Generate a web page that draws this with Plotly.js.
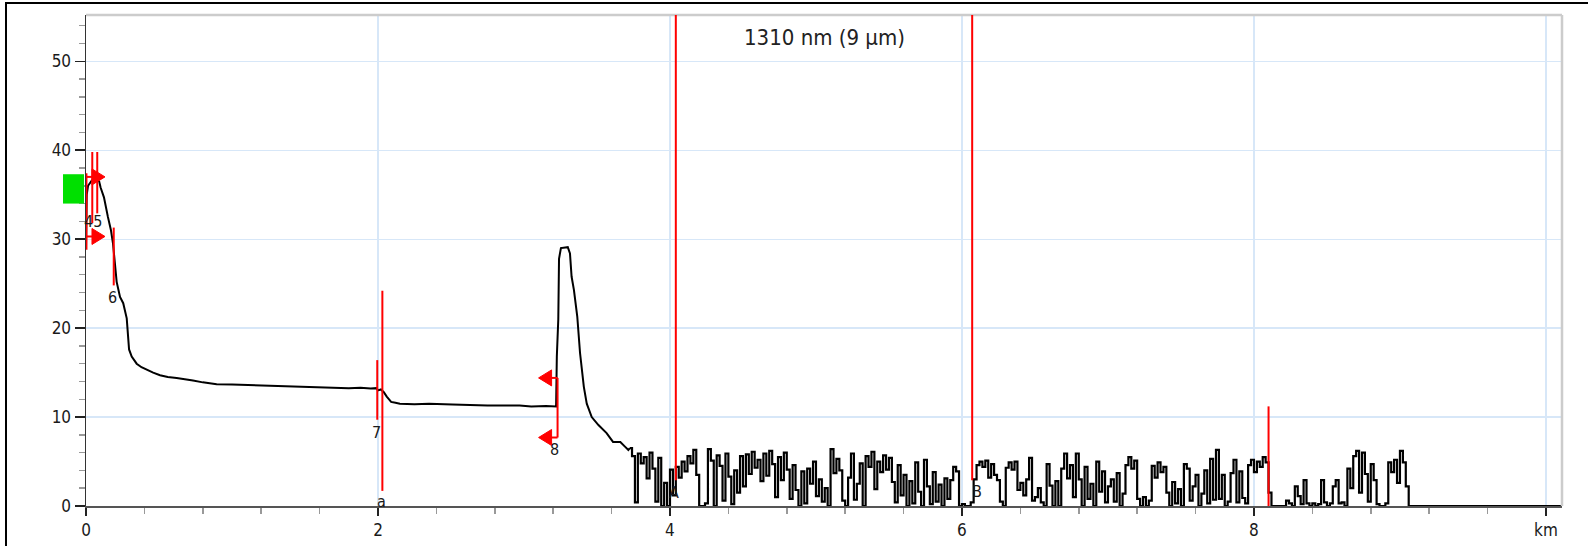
<!DOCTYPE html>
<html>
<head>
<meta charset="utf-8">
<script src="https://cdn.plot.ly/plotly-3.0.1.min.js"></script>
<style>
  html, body { margin: 0; padding: 0; background: #fff; overflow: hidden; }
  #wrap { position: relative; width: 1588px; height: 546px; }
  #chart { position: absolute; left: 0; top: 0; width: 1588px; height: 546px; }
  #frame { position: absolute; left: 5px; top: 2px; width: 1600px; height: 600px;
           border-left: 2px solid #000; border-top: 2px solid #000; pointer-events: none; }
</style>
</head>
<body>
<div id="wrap">
  <div id="chart"></div>
  <div id="frame"></div>
</div>
<script>
// ---------------- data ----------------
const chartTitle = '1310 nm (9 µm)';

// smooth part of the OTDR trace (km, dB)
const distKm = [0, 0.005, 0.014, 0.04, 0.07, 0.09, 0.10, 0.123, 0.15, 0.171,
  0.185, 0.20, 0.21, 0.233, 0.255, 0.279, 0.29, 0.295, 0.313, 0.347,
  0.38, 0.416, 0.46, 0.507, 0.56, 0.621, 0.68, 0.733, 0.80, 0.895,
  1.0, 1.10, 1.2, 1.3, 1.42, 1.5, 1.6, 1.7, 1.8, 1.88,
  1.95, 1.99, 2.0, 2.02, 2.04, 2.06, 2.09, 2.12, 2.15, 2.25,
  2.35, 2.51, 2.6, 2.75, 2.85, 2.97, 3.05, 3.15, 3.22, 3.225,
  3.235, 3.24, 3.253, 3.28, 3.30, 3.315, 3.326, 3.342, 3.365, 3.384,
  3.395, 3.41, 3.43, 3.464, 3.51, 3.566, 3.61, 3.66, 3.69, 3.715, 3.725];
const levelDb = [29.0, 35.0, 36.0, 36.6, 36.7, 36.5, 35.8, 34.7, 32.5, 31.0,
  29.5, 26.6, 25.2, 23.5, 22.8, 21.1, 19.0, 17.6, 16.8, 16.0,
  15.6, 15.3, 15.0, 14.7, 14.5, 14.4, 14.2, 14.1, 13.9, 13.7,
  13.65, 13.6, 13.5, 13.45, 13.4, 13.35, 13.3, 13.3, 13.25, 13.3,
  13.2, 13.25, 13.0, 13.1, 12.8, 12.3, 11.7, 11.6, 11.5, 11.45,
  11.5, 11.4, 11.35, 11.3, 11.3, 11.3, 11.2, 11.25, 11.2, 16.8,
  21.0, 27.8, 29.0, 29.1, 29.1, 28.4, 25.8, 24.3, 21.3, 17.2,
  15.7, 13.4, 11.5, 10.0, 9.1, 8.2, 7.2, 7.2, 6.7, 6.3, 6.5];

// noise floor samples (dB), sampled every noiseStepKm from noiseStartKm
const noiseStartKm = 3.74;
const noiseStepKm = 0.02;
const noiseDb = [
  5.6, 0.4, 5.9, 4.8, 5.5,   3.1, 6.0, 4.2, 0.5, 5.4,
  0, 2.6, 0, 4.1, 1.2,       4.4, 3.2, 5.0, 3.9, 5.6,
  4.8, 6.3, 3.5, 0, 0,       0.3, 6.4, 5.1, 0, 5.7,
  4.5, 0.6, 5.9, 3.3, 0.2,   4.0, 1.5, 5.6, 2.2, 5.8,
  3.6, 6.1, 4.3, 5.2, 2.8,   5.9, 3.4, 6.2, 4.7, 1.0,
  5.5, 2.9, 6.0, 4.1, 0.8,   4.6, 1.8, 0, 3.9, 0.3,
  4.2, 2.5, 5.0, 1.1, 3.0,   0.5, 2.0, 0, 6.4, 3.7,
  5.3, 4.0, 0.6, 0, 3.2,     5.9, 0.7, 2.5, 4.8, 0,
  5.6, 4.4, 6.1, 1.9, 5.0,   3.8, 5.7, 4.1, 5.4, 2.7,
  0.4, 4.6, 1.2, 3.5, 0,     2.8, 0.3, 4.9, 1.6, 0,
  5.2, 2.2, 0.2, 3.8, 0.5,   2.4, 0, 3.1, 0.8, 2.9,
  4.4, 3.9, 0, 0.2, 0,       0, 0.4, 3.0, 4.6, 5.0,
  4.4, 5.1, 3.2, 4.7, 3.5,   2.9, 0.5, 0, 4.3, 4.9,
  4.1, 5.0, 1.8, 2.6, 1.2,   3.0, 5.4, 0.6, 1.0, 2.0,
  0.4, 0, 4.7, 2.3, 0,       2.8, 0, 4.2, 5.9, 3.1,
  4.6, 1.0, 5.9, 3.0, 0,     4.4, 0.8, 2.5, 0, 5.0,
  1.6, 3.9, 0.4, 2.2, 3.0,   0.5, 3.7, 0, 1.4, 4.6,
  5.5, 4.2, 5.1, 0.8, 0,     1.0, 0, 0.6, 4.5, 3.2,
  4.9, 3.8, 4.4, 1.5, 0,     2.7, 0.3, 1.9, 0, 4.7,
  4.2, 0.6, 2.2, 3.5, 0,     1.4, 4.0, 0.3, 5.3, 0.7,
  6.3, 0.8, 3.5, 0, 0.5,     3.7, 5.2, 0.4, 3.9, 0.9,
  0.3, 4.6, 5.2, 3.8, 5.0,   4.4, 5.5, 4.9, 1.5, 0,
  0, 0, 0, 0, 0.6,           0.3, 0, 2.2, 1.1, 0.2,
  2.9, 0.3, 0, 0.3, 0,       0.2, 2.9, 0.4, 0, 0.3,
  2.2, 2.9, 0.3, 0.4, 0,     4.2, 2.0, 5.6, 6.2, 1.5,
  6.0, 3.6, 0.5, 4.7, 2.9,   0.2, 0, 0, 0.3, 4.9,
  3.8, 5.2, 2.6, 6.2, 4.9,   2.2, 0];

// trace end (flat at 0 dB)
const tailKm = [10.11];
const tailDb = [0];

// axis
const xTickVals = [0, 2, 4, 6, 8, 10];
const xTickText = ['0', '2', '4', '6', '8', 'km'];
const yTickVals = [0, 10, 20, 30, 40, 50];

// red event marker lines
const eventLineKm = [0.003, 0.043, 0.077, 0.19, 1.995, 2.03, 3.23, 4.04, 6.07, 8.10];
const eventLineFromDb = [28.8, 31.8, 32.9, 24.8, 9.7, 1.7, 7.7, 2.9, 2.9, 0];
const eventLineToDb = [37.4, 39.8, 39.8, 31.3, 16.4, 24.2, 14.4, 56, 56, 11.2];

// red arrows (shaft start, tip, level)
const arrowFromKm = [0.0, 0.0, 3.23, 3.23];
const arrowTipKm = [0.13, 0.13, 3.10, 3.10];
const arrowDb = [37.0, 30.3, 14.4, 7.7];

// event labels
const labelText = ['45', '6', '7', '8', 'a', 'A', 'B'];
const labelKm = [0.05, 0.18, 1.99, 3.21, 2.025, 4.03, 6.10];
const labelDb = [32.0, 23.4, 8.3, 6.3, 0.5, 1.5, 1.6];

// green launch marker (dB span)
const launchFromDb = 34.0;
const launchToDb = 37.3;

// ---------------- chart ----------------
const W = 1588, H = 546;
const M = { l: 86, r: 26, t: 15, b: 40 };
const X_RANGE = [0, 10.11];
const Y_RANGE = [0, 55.2];
const pxPerKm = (W - M.l - M.r) / (X_RANGE[1] - X_RANGE[0]);
const pxPerDb = (H - M.t - M.b) / (Y_RANGE[1] - Y_RANGE[0]);
const FONT = "'DejaVu Sans Condensed', 'DejaVu Sans', sans-serif";
const RED = '#ff0000';

const noiseKm = noiseDb.map((_, i) => +(noiseStartKm + i * noiseStepKm).toFixed(3));

const traceSmooth = {
  x: distKm, y: levelDb, type: 'scatter', mode: 'lines',
  line: { color: '#000', width: 2 }, hoverinfo: 'skip'
};
const traceNoise = {
  x: [distKm[distKm.length - 1]].concat(noiseKm, tailKm),
  y: [levelDb[levelDb.length - 1]].concat(noiseDb, tailDb),
  type: 'scatter', mode: 'lines',
  line: { color: '#000', width: 2.2, shape: 'hv' }, hoverinfo: 'skip'
};

const shapes = [];
// plot border top/right (light gray)
shapes.push({ type: 'line', xref: 'paper', yref: 'paper', x0: 0, x1: 1, y0: 1, y1: 1,
  line: { color: '#cccccc', width: 2.5 } });
shapes.push({ type: 'line', xref: 'paper', yref: 'paper', x0: 1, x1: 1, y0: 0, y1: 1,
  line: { color: '#cccccc', width: 2.5 } });

// green launch marker in the left margin
shapes.push({ type: 'rect', xref: 'paper', yref: 'y',
  x0: -23 / (W - M.l - M.r), x1: -2 / (W - M.l - M.r),
  y0: launchFromDb, y1: launchToDb, fillcolor: '#00e000', line: { width: 0 } });

eventLineKm.forEach((x, i) => {
  shapes.push({ type: 'line', xref: 'x', yref: 'y', x0: x, x1: x,
    y0: eventLineFromDb[i], y1: eventLineToDb[i], line: { color: RED, width: 2 } });
});

const headLenKm = 13 / pxPerKm;
const headHalfDb = 8 / pxPerDb;
arrowTipKm.forEach((tip, i) => {
  const from = arrowFromKm[i];
  const y = arrowDb[i];
  const dir = tip > from ? 1 : -1;
  shapes.push({ type: 'line', xref: 'x', yref: 'y', x0: from, x1: tip - dir * headLenKm * 0.5,
    y0: y, y1: y, line: { color: RED, width: 2 } });
  const bx = tip - dir * headLenKm;
  shapes.push({ type: 'path', xref: 'x', yref: 'y',
    path: `M ${tip} ${y} L ${bx} ${y + headHalfDb} L ${bx} ${y - headHalfDb} Z`,
    fillcolor: RED, line: { color: RED, width: 1 } });
});

const annotations = [{
  text: chartTitle, xref: 'paper', yref: 'paper', x: 0.5,
  y: 1 - 23 / (H - M.t - M.b), xanchor: 'center', yanchor: 'middle',
  showarrow: false, font: { family: FONT, size: 22, color: '#222' }
}];
labelText.forEach((t, i) => {
  annotations.push({ text: t, x: labelKm[i], y: labelDb[i], xref: 'x', yref: 'y',
    xanchor: 'center', yanchor: 'middle', showarrow: false,
    font: { family: FONT, size: 16, color: '#1a1a1a' } });
});

const axisCommon = {
  showgrid: true, gridcolor: '#d7e7f8', gridwidth: 1.3,
  zeroline: false, showline: true, linewidth: 1.5,
  ticks: 'outside', tickwidth: 1.5, tickcolor: '#222',
  tickfont: { family: FONT, size: 17, color: '#1a1a1a' },
  fixedrange: true
};

const layout = {
  width: W, height: H,
  margin: { l: M.l, r: M.r, t: M.t, b: M.b, pad: 0 },
  paper_bgcolor: '#fff', plot_bgcolor: '#fff',
  showlegend: false,
  xaxis: Object.assign({}, axisCommon, {
    range: X_RANGE, tickmode: 'array', tickvals: xTickVals, ticktext: xTickText,
    ticklen: 8, linecolor: '#555',
    minor: { tick0: 0, dtick: 0.4, ticks: 'outside', ticklen: 6, tickcolor: '#999', tickwidth: 1.5, showgrid: false }
  }),
  yaxis: Object.assign({}, axisCommon, {
    range: Y_RANGE, tickmode: 'array', tickvals: yTickVals,
    ticklen: 10, linecolor: '#333',
    minor: { tick0: 0, dtick: 2, ticks: 'outside', ticklen: 6, tickcolor: '#999', tickwidth: 1.5, showgrid: false }
  }),
  shapes: shapes,
  annotations: annotations
};

Plotly.newPlot('chart', [traceSmooth, traceNoise], layout, { displayModeBar: false, staticPlot: true });
</script>
</body>
</html>
